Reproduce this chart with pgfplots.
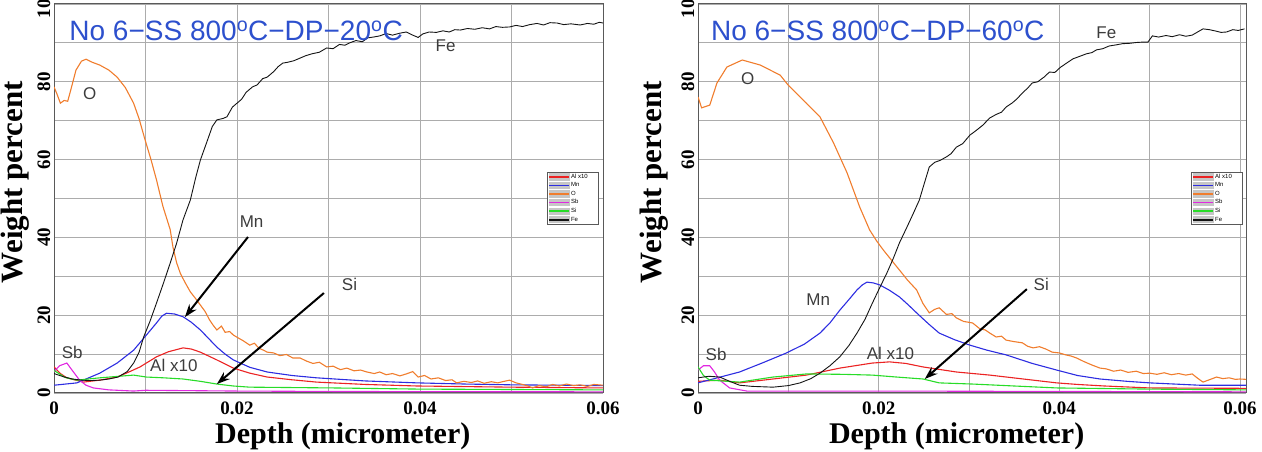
\documentclass[border=0pt]{standalone}
\usepackage{fontspec}
\setmainfont{Liberation Serif}
\newfontfamily\sans{Liberation Sans}
\usepackage{pgfplots}
\pgfplotsset{compat=1.18}
\usetikzlibrary{arrows.meta}

\definecolor{cAl}{RGB}{235,35,35}
\definecolor{cMn}{RGB}{45,45,225}
\definecolor{cO}{RGB}{240,125,45}
\definecolor{cSb}{RGB}{225,40,225}
\definecolor{cSi}{RGB}{40,220,40}
\definecolor{cFe}{RGB}{20,20,20}
\definecolor{ttl}{RGB}{45,80,205}
\definecolor{lbl}{RGB}{60,60,60}

\newcommand{\tickfont}{\fontsize{19}{22}\selectfont\bfseries}
\newcommand{\xlabfont}{\fontsize{30}{34}\selectfont\bfseries}
\newcommand{\ylabfont}{\fontsize{31}{34}\selectfont\bfseries}
\newcommand{\curvefont}{\sans\fontsize{17}{19}\selectfont}
\newcommand{\titlefont}{\sans\fontsize{28}{32}\selectfont}
\newcommand{\dg}{\textsuperscript{o}}
\newcommand{\entry}[1]{\makebox[25pt][l]{#1}}

\tikzset{callout/.style={-{Stealth[length=13pt,width=9pt]}, line width=2pt, black}}

\pgfplotsset{
  depthprofile/.style={
    scale only axis,
    height=389pt,
    xmin=0, ymin=0, ymax=100,
    xtick={0,0.02,0.04,0.06},
    xticklabels={0,0.02,0.04,0.06},
    minor xtick={0.01,0.03,0.05},
    ytick={0,20,40,60,80,100},
    yticklabels={0,20,40,60,80,100},
    minor ytick={10,30,50,70,90},
    scaled x ticks=false,
    grid=both,
    major grid style={gray!65, line width=0.9pt},
    minor grid style={gray!65, line width=0.9pt},
    major tick length=0pt, minor tick length=0pt,
    axis line style={gray!70!black, line width=1pt},
    tick label style={font=\tickfont},
    /pgf/number format/assume math mode=true,
    xticklabel style={yshift=-5pt},
    yticklabel style={rotate=90, anchor=south, inner sep=3.5pt},
    xlabel={Depth (micrometer)},
    ylabel={Weight percent},
    xlabel style={font=\xlabfont},
    ylabel style={font=\ylabfont},
    every axis plot/.append style={line width=1.1pt, no markers},
    legend style={draw=gray!70!black, fill=white, anchor=north east,
      font=\sans\fontsize{6}{6}\selectfont, inner sep=1pt,
      row sep=1.2pt, nodes={inner sep=0.8pt}, cells={anchor=west}},
    legend image code/.code={
      \fill[gray!45] (0pt,-3pt) rectangle (20pt,3pt);
      \draw[#1, line width=1.8pt] (0pt,0pt) -- (20pt,0pt);},
  },
}

\begin{document}
\begin{tikzpicture}
\path[use as bounding box] (0,0) rectangle (1262pt,452pt);

% ---------------- 20 C dew point ----------------
\begin{axis}[depthprofile, at={(54pt,59pt)}, anchor=south west,
  width=549pt, xmax=0.06,
  xlabel style={at={(axis description cs:0.526,0)}, anchor=base, yshift=-51pt},
  ylabel style={at={(axis description cs:-0.058,0.542)}, anchor=base},
  legend style={at={(axis description cs:0.991,0.568)}}]
\addplot[cAl] table {
0 6.7
0.0007 5.0
0.0014 3.9
0.0032 2.8
0.0050 3.3
0.0069 4.1
0.0080 5.2
0.0094 6.7
0.0112 9.3
0.0125 10.6
0.0141 11.6
0.0150 11.3
0.0160 10.5
0.0178 8.5
0.0196 6.4
0.0214 5.1
0.0233 4.1
0.0260 3.4
0.0287 2.8
0.0340 2.2
0.0397 1.8
0.0500 1.5
0.0600 1.3
};
\addlegendentry{\entry{Al x10}}
\addplot[cMn] table {
0 2.0
0.0025 2.6
0.0050 5.1
0.0069 7.7
0.0087 11.0
0.0101 14.9
0.0112 18.0
0.0118 19.8
0.0123 20.5
0.0132 20.3
0.0141 19.6
0.0150 18.2
0.0160 16.2
0.0169 14.0
0.0178 11.8
0.0187 10.0
0.0196 8.5
0.0214 6.6
0.0233 5.4
0.0260 4.5
0.0287 3.9
0.0340 3.1
0.0397 2.6
0.0450 2.3
0.0500 2.1
0.0600 1.9
};
\addlegendentry{\entry{Mn}}
\addplot[cO] table {
0 78.7
0.0003 77.0
0.0007 74.5
0.0011 75.2
0.0015 75.0
0.0019 78.5
0.0024 83.0
0.0030 85.3
0.0035 85.8
0.0042 85.0
0.0050 84.3
0.0060 83.0
0.0069 81.2
0.0078 78.5
0.0087 74.5
0.0093 70.5
0.0099 65.5
0.0106 60.0
0.0112 54.8
0.0119 48.0
0.0127 42.0
0.0130 37.5
0.0134 33.5
0.0138 30.8
0.0143 28.5
0.0149 26.0
0.0155 24.2
0.0160 22.6
0.0165 21.0
0.0170 18.8
0.0174 17.4
0.0178 16.2
0.0183 17.2
0.0187 15.6
0.0192 15.8
0.0196 14.9
0.0201 14.2
0.0207 13.4
0.0214 12.3
0.0219 12.8
0.0224 11.5
0.0229 11.0
0.0233 10.5
0.0240 10.3
0.0247 9.6
0.0254 9.9
0.0261 9.0
0.0269 9.0
0.0276 8.2
0.0283 7.6
0.0290 7.9
0.0298 6.7
0.0305 6.9
0.0313 6.0
0.0320 6.4
0.0328 5.7
0.0335 5.9
0.0342 5.4
0.0350 5.0
0.0356 5.4
0.0363 4.7
0.0370 5.0
0.0378 4.4
0.0385 4.9
0.0392 5.5
0.0398 4.1
0.0405 4.5
0.0412 3.6
0.0420 3.9
0.0428 3.2
0.0435 3.4
0.0440 2.6
0.0448 3.0
0.0456 2.7
0.0463 3.1
0.0470 2.5
0.0478 2.9
0.0485 2.6
0.0492 3.0
0.0498 3.3
0.0505 2.6
0.0512 2.2
0.0518 1.8
0.0523 1.3
0.0530 1.9
0.0538 1.6
0.0545 2.2
0.0552 1.8
0.0560 2.3
0.0568 1.9
0.0575 2.1
0.0583 1.7
0.0590 2.2
0.0600 2.0
};
\addlegendentry{\entry{O}}
\addplot[cSb] table {
0 5.5
0.0006 7.0
0.0014 7.7
0.0020 5.8
0.0028 3.3
0.0035 2.0
0.0043 1.3
0.0060 0.8
0.0087 0.5
0.0100 0.7
0.0150 0.6
0.0200 0.5
0.0300 0.4
0.0400 0.35
0.0600 0.3
};
\addlegendentry{\entry{Sb}}
\addplot[cSi] table {
0 5.8
0.0012 4.0
0.0025 3.3
0.0050 3.9
0.0087 4.6
0.0101 4.1
0.0120 3.9
0.0141 3.6
0.0160 3.0
0.0178 2.3
0.0196 1.8
0.0214 1.5
0.0305 1.3
0.0400 1.0
0.0500 0.9
0.0600 0.8
};
\addlegendentry{\entry{Si}}
\addplot[cFe, line width=0.9pt] table {
0 5.0
0.001 4.2
0.002 3.6
0.003 3.3
0.004 3.2
0.005 3.3
0.006 3.6
0.007 4.1
0.008 5.5
0.0087 7.7
0.0093 10.5
0.0098 14.4
0.0105 18.5
0.0112 23.1
0.0120 28.5
0.0127 33.4
0.0134 38.5
0.0141 44.5
0.0149 49.6
0.0155 55.5
0.0160 59.9
0.0167 64.5
0.0173 68.5
0.0178 70.2
0.0185 70.6
0.0189 71.0
0.0195 73.5
0.0200 74.5
0.0205 75.5
0.0210 77.3
0.0217 78.7
0.0222 79.2
0.0228 80.8
0.0233 81.2
0.0240 82.6
0.0245 83.9
0.0250 84.8
0.0255 85.0
0.0262 85.4
0.0269 86.1
0.0275 86.7
0.0282 87.2
0.0290 87.6
0.0298 88.7
0.0305 88.5
0.0312 89.6
0.0318 89.4
0.0323 90.0
0.0330 90.6
0.0337 90.3
0.0343 91.3
0.0349 91.5
0.0356 91.8
0.0363 92.4
0.0370 92.0
0.0378 92.5
0.0385 92.8
0.0392 92.0
0.0398 91.4
0.0403 92.3
0.0410 92.8
0.0418 92.7
0.0425 93.1
0.0432 92.8
0.0438 93.4
0.0444 93.3
0.0452 93.7
0.0460 93.5
0.0468 93.9
0.0476 93.6
0.0483 94.2
0.0490 94.0
0.0498 94.1
0.0505 94.5
0.0512 94.2
0.0520 94.7
0.0528 95.0
0.0535 94.6
0.0542 95.2
0.0550 95.1
0.0557 94.7
0.0565 94.9
0.0575 94.6
0.0583 95.0
0.0590 94.8
0.0596 95.3
0.0600 95.1
};
\addlegendentry{\entry{Fe}}

\node[text=ttl, font=\titlefont] at (axis cs:0.0199,93.1) {No 6−SS 800\dg C−DP−20\dg C};
\node[text=lbl, font=\curvefont] at (axis cs:0.0039,77) {O};
\node[text=lbl, font=\curvefont] at (axis cs:0.0428,89.2) {Fe};
\node[text=lbl, font=\curvefont] at (axis cs:0.0216,44) {Mn};
\node[text=lbl, font=\curvefont] at (axis cs:0.0323,27.8) {Si};
\node[text=lbl, font=\curvefont] at (axis cs:0.0020,10.5) {Sb};
\node[text=lbl, font=\curvefont] at (axis cs:0.0131,7.2) {Al x10};
\draw[callout] (axis cs:0.0212,40.1) -- (axis cs:0.0143,19.5);
\draw[callout] (axis cs:0.0295,25.7) -- (axis cs:0.0178,2.3);
\end{axis}

% ---------------- 60 C dew point ----------------
\begin{axis}[depthprofile, at={(698pt,59pt)}, anchor=south west,
  width=548pt, xmax=0.06066,
  xlabel style={at={(axis description cs:0.472,0)}, anchor=base, yshift=-51pt},
  ylabel style={at={(axis description cs:-0.066,0.542)}, anchor=base},
  legend style={at={(axis description cs:0.993,0.568)}}]
\addplot[cAl] table {
0 3.0
0.0024 3.3
0.0046 2.6
0.0083 3.6
0.0120 4.6
0.0157 6.4
0.0193 7.7
0.0212 8.0
0.0230 7.6
0.0249 6.7
0.0286 5.4
0.0323 4.6
0.0360 3.6
0.0397 2.6
0.0420 2.2
0.0450 1.8
0.0500 1.3
0.0607 1.2
};
\addlegendentry{\entry{Al x10}}
\addplot[cMn] table {
0 2.6
0.0023 4.0
0.0046 5.4
0.0072 7.8
0.0098 10.3
0.0118 12.6
0.0135 15.4
0.0146 18.0
0.0157 21.3
0.0167 24.0
0.0176 26.5
0.0182 27.8
0.0187 28.5
0.0194 28.3
0.0201 27.8
0.0212 26.4
0.0223 24.7
0.0233 22.6
0.0242 20.6
0.0255 17.8
0.0267 15.4
0.0284 13.7
0.0301 12.3
0.0320 11.0
0.0341 9.8
0.0370 7.6
0.0397 5.9
0.0420 4.5
0.0445 3.6
0.0475 3.0
0.0500 2.6
0.0555 2.0
0.0607 2.0
};
\addlegendentry{\entry{Mn}}
\addplot[cO] table {
0 76.1
0.0004 73.3
0.0013 74.0
0.0021 79.7
0.0032 83.8
0.0049 85.6
0.0069 84.3
0.0091 81.7
0.0100 79.1
0.0110 76.8
0.0120 74.5
0.0135 71.0
0.0150 64.3
0.0165 56.6
0.0179 47.8
0.0190 41.9
0.0198 39.0
0.0205 36.8
0.0214 34.2
0.0223 31.6
0.0232 29.0
0.0242 26.5
0.0249 23.0
0.0256 20.6
0.0262 21.5
0.0267 21.9
0.0275 20.2
0.0281 20.4
0.0286 19.3
0.0294 18.4
0.0304 18.0
0.0312 16.5
0.0318 16.2
0.0323 15.4
0.0330 14.4
0.0336 14.6
0.0341 13.6
0.0350 13.2
0.0359 12.9
0.0365 12.0
0.0371 11.6
0.0378 11.9
0.0385 11.3
0.0392 10.5
0.0400 10.3
0.0407 9.8
0.0413 9.5
0.0419 9.0
0.0427 8.1
0.0436 7.2
0.0445 6.4
0.0452 6.2
0.0460 5.6
0.0468 5.9
0.0476 5.3
0.0485 5.6
0.0493 5.0
0.0500 5.1
0.0508 4.8
0.0516 5.2
0.0524 4.7
0.0532 5.0
0.0540 4.6
0.0547 4.9
0.0553 3.8
0.0559 2.8
0.0566 3.4
0.0574 4.1
0.0581 3.7
0.0588 3.9
0.0595 3.5
0.0600 3.6
0.0607 3.5
};
\addlegendentry{\entry{O}}
\addplot[cSb] table {
0 5.9
0.0006 7.0
0.0013 7.0
0.0018 5.5
0.0024 3.3
0.0035 1.3
0.0054 0.5
0.0100 0.5
0.0200 0.5
0.0400 0.4
0.0607 0.3
};
\addlegendentry{\entry{Sb}}
\addplot[cSi] table {
0 6.7
0.0006 4.5
0.0013 3.3
0.0046 2.8
0.0083 4.1
0.0120 4.9
0.0160 4.8
0.0193 4.6
0.0220 4.1
0.0249 3.6
0.0267 2.6
0.0304 2.3
0.0350 1.8
0.0397 1.3
0.0500 1.0
0.0607 0.8
};
\addlegendentry{\entry{Si}}
\addplot[cFe, line width=0.9pt] table {
0 3.9
0.0012 4.3
0.0024 4.1
0.0035 3.0
0.0046 2.0
0.0060 1.7
0.0083 1.5
0.0100 1.9
0.0113 2.6
0.0125 3.7
0.0135 5.1
0.0146 7.0
0.0157 9.3
0.0167 12.2
0.0176 15.4
0.0185 19.0
0.0193 23.1
0.0201 27.0
0.0209 30.8
0.0216 34.5
0.0223 38.6
0.0231 42.5
0.0238 46.0
0.0245 49.6
0.0250 53.5
0.0256 58.1
0.0262 59.3
0.0268 59.8
0.0275 60.7
0.0280 61.5
0.0286 63.2
0.0293 64.1
0.0301 66.3
0.0308 67.5
0.0315 68.8
0.0323 70.7
0.0330 71.6
0.0336 72.2
0.0341 73.5
0.0348 74.6
0.0353 75.6
0.0359 77.1
0.0365 78.4
0.0370 79.7
0.0376 80.0
0.0383 81.2
0.0389 82.5
0.0395 82.4
0.0401 83.7
0.0408 84.8
0.0415 85.9
0.0422 86.5
0.0430 87.2
0.0436 87.5
0.0441 88.2
0.0448 88.5
0.0455 89.2
0.0463 89.5
0.0470 89.8
0.0478 89.9
0.0485 90.1
0.0492 90.2
0.0498 90.2
0.0503 91.8
0.0510 91.5
0.0518 91.9
0.0525 91.6
0.0533 92.1
0.0540 91.7
0.0547 92.0
0.0553 92.8
0.0559 93.6
0.0566 93.4
0.0572 93.1
0.0579 92.7
0.0585 92.8
0.0592 93.4
0.0598 93.2
0.0605 93.6
};
\addlegendentry{\entry{Fe}}

\node[text=ttl, font=\titlefont] at (axis cs:0.0199,93.1) {No 6−SS 800\dg C−DP−60\dg C};
\node[text=lbl, font=\curvefont] at (axis cs:0.0055,80.7) {O};
\node[text=lbl, font=\curvefont] at (axis cs:0.0452,92.5) {Fe};
\node[text=lbl, font=\curvefont] at (axis cs:0.0133,23.9) {Mn};
\node[text=lbl, font=\curvefont] at (axis cs:0.0380,27.8) {Si};
\node[text=lbl, font=\curvefont] at (axis cs:0.0020,9.8) {Sb};
\node[text=lbl, font=\curvefont] at (axis cs:0.0213,10.3) {Al x10};
\draw[callout] (axis cs:0.0364,26.7) -- (axis cs:0.0251,3.6);
\end{axis}
\end{tikzpicture}
\end{document}
